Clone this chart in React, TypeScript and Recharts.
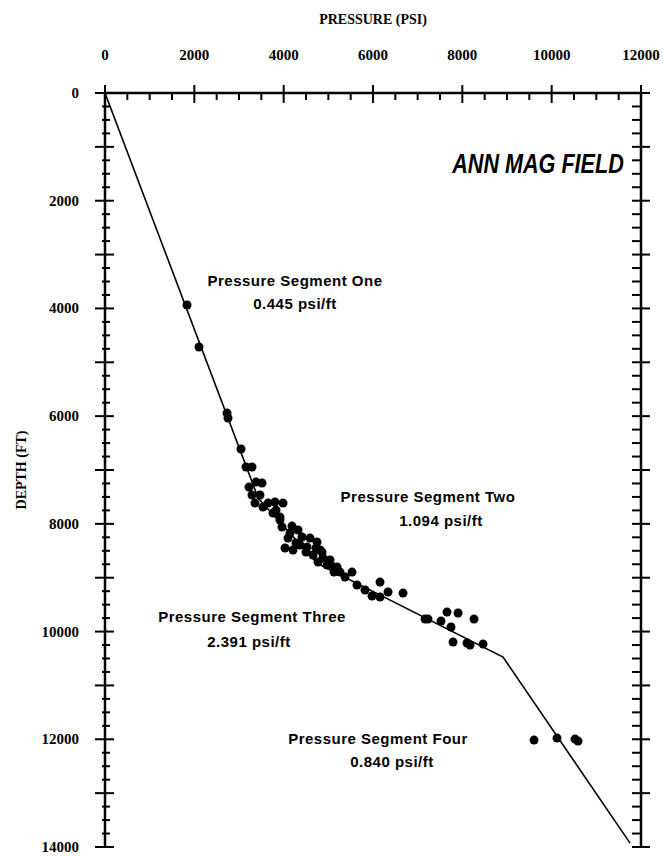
import { ScatterChart, Scatter, XAxis, YAxis } from 'recharts';

// measured points: pressure (psi) vs depth (ft)
const pressure = [
  1836, 2105, 2732, 2754, 3045, 3157, 3291, 3381, 3224, 3291,
  3470, 3358, 3538, 3806, 3985, 3762, 3918, 3650, 3515, 3829,
  3918, 3963, 4142, 4030, 4209, 4411, 4590, 4747, 4366, 4523,
  4814, 4657, 4881, 5038, 4971, 5195, 5105, 5262, 5374, 5530,
  5642, 5821, 5978, 6157, 6336, 6157, 6672, 4097, 4276, 4500,
  4724, 4859, 4769, 5127, 4321, 4187, 7165, 7232, 7657, 7904,
  8262, 7523, 7747, 7792, 8105, 8172, 8464, 9605, 10120, 10523,
  10590,
];
const depth = [
  3937, 4717, 5943, 6035, 6611, 6945, 6945, 7224, 7317, 7465,
  7465, 7614, 7688, 7595, 7614, 7800, 7874, 7614, 7242, 7744,
  7929, 8059, 8171, 8449, 8486, 8245, 8264, 8338, 8393, 8431,
  8486, 8579, 8635, 8672, 8765, 8802, 8802, 8895, 8988, 8895,
  9136, 9229, 9340, 9359, 9266, 9081, 9285, 8264, 8356, 8524,
  8449, 8524, 8709, 8895, 8115, 8041, 9768, 9768, 9638, 9656,
  9768, 9805, 9916, 10195, 10213, 10250, 10232, 12015, 11978, 11996,
  12033,
];

// fitted pressure segments (break points)
const segPressure = [0, 3432, 4753, 8911, 11755];
const segDepth = [0, 7527, 8734, 10473, 13928];

const xTicks = Array.from({ length: 25 }, (_, i) => i * 500);
const yTicks = Array.from({ length: 57 }, (_, i) => i * 250);

const points = pressure.map((p, i) => ({ p, d: depth[i] }));
const segments = segPressure.map((p, i) => ({ p, d: segDepth[i] }));

const W = 663;
const H = 856;
const serif = '"Liberation Serif", "Times New Roman", serif';
const sans = '"Liberation Sans", Arial, sans-serif';

const TopTick = (props: any) => {
  const { x, y, payload } = props;
  const major = payload.value % 2000 === 0;
  return (
    <g>
      {major
        ? <line x1={x} x2={x} y1={y - 8} y2={y + 10} stroke="#000" strokeWidth={2} />
        : <line x1={x} x2={x} y1={y} y2={y + 7} stroke="#000" strokeWidth={2} />}
      {major && (
        <text x={x} y={y - 38} textAnchor="middle" dominantBaseline="central"
          fontFamily={serif} fontWeight="bold" fontSize={15} fill="#000">{payload.value}</text>
      )}
    </g>
  );
};

const BottomTick = (props: any) => {
  const { x, y, payload } = props;
  const major = payload.value % 2000 === 0;
  return major
    ? <line x1={x} x2={x} y1={y - 10} y2={y + 8} stroke="#000" strokeWidth={2} />
    : <line x1={x} x2={x} y1={y} y2={y - 7} stroke="#000" strokeWidth={2} />;
};

const LeftTick = (props: any) => {
  const { x, y, payload } = props;
  const v = payload.value;
  const major = v % 1000 === 0;
  return (
    <g>
      {major
        ? <line x1={x - 10} x2={x + 9} y1={y} y2={y} stroke="#000" strokeWidth={2} />
        : <line x1={x - 3} x2={x + 5} y1={y} y2={y} stroke="#000" strokeWidth={2} />}
      {v % 2000 === 0 && (
        <text x={x - 26} y={y} textAnchor="end" dominantBaseline="central"
          fontFamily={serif} fontWeight="bold" fontSize={15} fill="#000">{v}</text>
      )}
    </g>
  );
};

const RightTick = (props: any) => {
  const { x, y, payload } = props;
  const major = payload.value % 1000 === 0;
  return major
    ? <line x1={x - 9} x2={x + 9} y1={y} y2={y} stroke="#000" strokeWidth={2} />
    : <line x1={x - 9} x2={x} y1={y} y2={y} stroke="#000" strokeWidth={2} />;
};

const note = (left: number, top: number, text: string) => (
  <div style={{
    position: 'absolute', left, top, transform: 'translateX(-50%)', whiteSpace: 'nowrap',
    fontFamily: sans, fontWeight: 'bold', fontSize: 15, letterSpacing: 0.5, color: '#000',
  }}>{text}</div>
);

export default function App() {
  const axisLine = { stroke: '#000', strokeWidth: 2.5 };
  return (
    <div style={{ position: 'absolute', left: 0, top: 0, width: W, height: H, background: '#fff' }}>
      <ScatterChart width={W} height={H} margin={{ top: 53, left: 45, right: 21, bottom: 9 }}>
        <XAxis xAxisId="top" orientation="top" type="number" dataKey="p" domain={[0, 12000]}
          ticks={xTicks} interval={0} height={40} tickSize={0} tickMargin={0}
          axisLine={axisLine} tickLine={false} tick={<TopTick />} allowDataOverflow />
        <XAxis xAxisId="bottom" orientation="bottom" type="number" dataKey="p" domain={[0, 12000]}
          ticks={xTicks} interval={0} height={0} tickSize={0} tickMargin={0}
          axisLine={axisLine} tickLine={false} tick={<BottomTick />} allowDataOverflow />
        <YAxis yAxisId="left" orientation="left" type="number" dataKey="d" domain={[0, 14000]}
          reversed ticks={yTicks} interval={0} width={60} tickSize={0} tickMargin={0}
          axisLine={axisLine} tickLine={false} tick={<LeftTick />} allowDataOverflow />
        <YAxis yAxisId="right" orientation="right" type="number" dataKey="d" domain={[0, 14000]}
          reversed ticks={yTicks} interval={0} width={1} tickSize={0} tickMargin={0}
          axisLine={axisLine} tickLine={false} tick={<RightTick />} allowDataOverflow />
        <Scatter xAxisId="top" yAxisId="left" data={segments} isAnimationActive={false}
          line={{ stroke: '#000', strokeWidth: 1.6 }} shape={() => null} />
        <Scatter xAxisId="top" yAxisId="left" data={points} isAnimationActive={false}
          fill="#000" shape={(p: any) => <circle cx={p.cx} cy={p.cy} r={4.5} fill="#000" />} />
      </ScatterChart>
      <div style={{
        position: 'absolute', left: 373, top: 12, transform: 'translateX(-50%)', whiteSpace: 'nowrap',
        fontFamily: serif, fontWeight: 'bold', fontSize: 14, color: '#000',
      }}>PRESSURE (PSI)</div>
      <div style={{
        position: 'absolute', left: 22, top: 470, transform: 'translate(-50%, -50%) rotate(-90deg)',
        whiteSpace: 'nowrap', fontFamily: serif, fontWeight: 'bold', fontSize: 14, color: '#000',
      }}>DEPTH (FT)</div>
      <div style={{
        position: 'absolute', left: 538, top: 149, transform: 'translateX(-50%) scaleX(0.8)', whiteSpace: 'nowrap',
        fontFamily: sans, fontWeight: 'bold', fontStyle: 'italic', fontSize: 27, color: '#000',
      }}>ANN MAG FIELD</div>
      {note(295, 272, 'Pressure Segment One')}
      {note(295, 295, '0.445 psi/ft')}
      {note(428, 488, 'Pressure Segment Two')}
      {note(441, 512, '1.094 psi/ft')}
      {note(252, 608, 'Pressure Segment Three')}
      {note(249, 633, '2.391 psi/ft')}
      {note(378, 730, 'Pressure Segment Four')}
      {note(392, 753, '0.840 psi/ft')}
    </div>
  );
}
